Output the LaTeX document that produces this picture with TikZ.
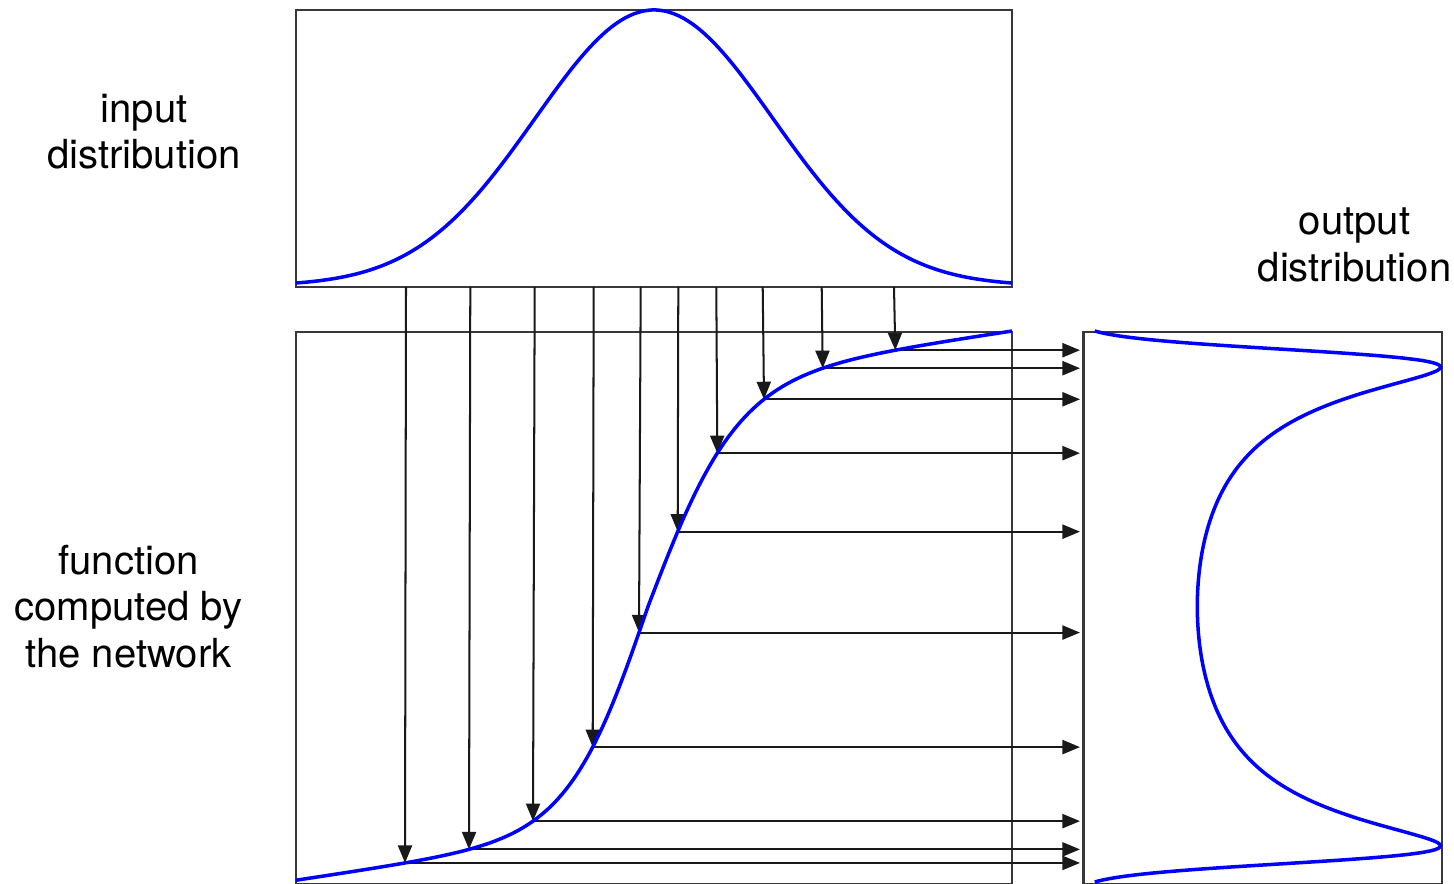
\documentclass[tikz,border=0pt]{standalone}
\usepackage{fontspec}
\setmainfont{TeX Gyre Heros}
\usepackage{tikz}
\usetikzlibrary{arrows.meta}

\begin{document}
\begin{tikzpicture}[
    x=0.02cm, y=-0.02cm,
    panel/.style={draw=black!78, line width=1.2pt},
    curve/.style={draw=blue, line width=2pt, line join=round},
    arrow/.style={-{Triangle[length=10pt, width=8pt]}, black!90, line width=1.15pt},
    textlabel/.style={align=center, font=\fontsize{22.8}{26.5}\selectfont},
    declare function={
        gauss(\x) = 286 - 276*exp(-0.5*((\x-654)/119)^2);
        fnet(\x)  = 606.5 - 221*tanh((\x-648)/((\x<648)*80+(\x>=648)*90)) - 0.15*(\x-648);
    }
]
    \useasboundingbox (0,0) rectangle (1454,884);

    % Three panels: input density, network function, output density.
    \draw[panel] (296,10) rectangle (1012,287);
    \draw[panel] (296,331.7) rectangle (1012,884);
    \draw[panel] (1083.5,331.7) rectangle (1441.7,884);

    \node[textlabel] (inlabel) at (144, 131.5) {input\\distribution};
    \node[textlabel] (netlabel) at (128.5, 606.5) {function\\computed by\\the network};
    \node[textlabel] (outlabel) at (1354.5, 245) {output\\distribution};

    % Samples are pushed down onto the curve and then across to the output.
    \coordinate (outin) at (1080, 606.5);
    \foreach \xs/\xe [count=\i] in {406/405, 470.3/469, 534.7/533, 593.7/592.7,
            640.7/639, 678.3/677.7, 716.3/717.3, 762.7/764, 821.7/822.7, 894/895.3} {
        \coordinate (s\i) at (\xs, 287);
        \coordinate (p\i) at (\xe, {fnet(\xe)});
        \draw[arrow] (s\i) -- (p\i);
        \draw[arrow] (p\i) -- (p\i -| outin);
    }

    % Curves.
    \draw[curve] plot[domain=296:1012, samples=160] (\x, {gauss(\x)});
    \draw[curve] plot[domain=296:1012, samples=200] (\x, {fnet(\x)});
    \draw[curve] plot[domain=-364:364, samples=361, variable=\t]
        ({1074 + 339*exp(-0.5*(\t/119)^2)/(2.6*(1-tanh(\t/85)^2)+0.15)},
         {606.5 - 221*tanh(\t/85) - 0.15*\t});

\end{tikzpicture}
\end{document}
